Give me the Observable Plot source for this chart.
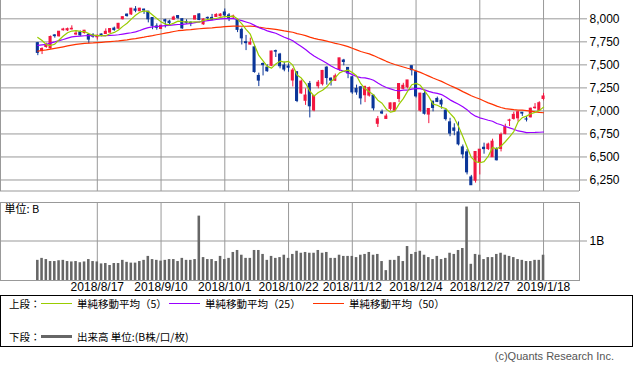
<!DOCTYPE html>
<html><head><meta charset="utf-8">
<script src="https://cdn.jsdelivr.net/npm/d3@7"></script>
<script src="https://cdn.jsdelivr.net/npm/@observablehq/plot@0.6"></script>
<style>
body{margin:0;background:#fff;}
#wrap{position:relative;width:633px;height:370px;overflow:hidden;font-family:"Liberation Sans",Arial,sans-serif;}
#p1{position:absolute;left:0;top:0;}
#p2{position:absolute;left:0;top:191px;}
#legend{position:absolute;left:0;top:295px;width:633px;height:52px;box-sizing:border-box;border:1.5px solid #000;font-family:"Noto Sans CJK JP",sans-serif;font-size:10.5px;color:#000;}
#legend .t{position:absolute;white-space:nowrap;line-height:12px;}
#legend .ln{position:absolute;height:0;}
#cap{position:absolute;right:19px;top:350px;font-size:11px;color:#555;font-family:"Liberation Sans",Arial,sans-serif;white-space:nowrap;}
</style></head><body><div id="wrap"><div id="p1"></div><div id="p2"></div>
<div id="legend">
<div class="t" style="left:8px;top:2px">上段：</div>
<div class="ln" style="left:40px;top:7px;width:31px;border-top:1.5px solid #99cc00"></div>
<div class="t" style="left:76px;top:2px">単純移動平均（5）</div>
<div class="ln" style="left:168px;top:7px;width:31px;border-top:1.5px solid #9900ff"></div>
<div class="t" style="left:204px;top:2px">単純移動平均（25）</div>
<div class="ln" style="left:312px;top:7px;width:31px;border-top:1.5px solid #ff3300"></div>
<div class="t" style="left:348px;top:2px">単純移動平均（50）</div>
<div class="t" style="left:8px;top:35px">下段：</div>
<div class="ln" style="left:40px;top:39px;width:31px;border-top:3px solid #666"></div>
<div class="t" style="left:76px;top:35px">出来高 単位:(B株/口/枚)</div>
</div>
<div id="cap">(c)Quants Research Inc.</div>
</div>
<script>
const dates = [
"2018/7/30","2018/7/31","2018/8/1","2018/8/2","2018/8/3","2018/8/6","2018/8/7","2018/8/8","2018/8/9","2018/8/10","2018/8/13","2018/8/14","2018/8/15","2018/8/16","2018/8/17",
"2018/8/20","2018/8/21","2018/8/22","2018/8/23","2018/8/24","2018/8/27","2018/8/28","2018/8/29","2018/8/30","2018/8/31","2018/9/4","2018/9/5","2018/9/6","2018/9/7","2018/9/10",
"2018/9/11","2018/9/12","2018/9/13","2018/9/14","2018/9/17","2018/9/18","2018/9/19","2018/9/20","2018/9/21","2018/9/24","2018/9/25","2018/9/26","2018/9/27","2018/9/28","2018/10/1",
"2018/10/2","2018/10/3","2018/10/4","2018/10/5","2018/10/8","2018/10/9","2018/10/10","2018/10/11","2018/10/12","2018/10/15","2018/10/16","2018/10/17","2018/10/18","2018/10/19","2018/10/22",
"2018/10/23","2018/10/24","2018/10/25","2018/10/26","2018/10/29","2018/10/30","2018/10/31","2018/11/1","2018/11/2","2018/11/5","2018/11/6","2018/11/7","2018/11/8","2018/11/9","2018/11/12",
"2018/11/13","2018/11/14","2018/11/15","2018/11/16","2018/11/19","2018/11/20","2018/11/21","2018/11/23","2018/11/26","2018/11/27","2018/11/28","2018/11/29","2018/11/30","2018/12/3","2018/12/4",
"2018/12/6","2018/12/7","2018/12/10","2018/12/11","2018/12/12","2018/12/13","2018/12/14","2018/12/17","2018/12/18","2018/12/19","2018/12/20","2018/12/21","2018/12/24","2018/12/26","2018/12/27",
"2018/12/28","2018/12/31","2019/1/2","2019/1/3","2019/1/4","2019/1/7","2019/1/8","2019/1/9","2019/1/10","2019/1/11","2019/1/14","2019/1/15","2019/1/16","2019/1/17","2019/1/18"];

const open = [
7736,7652,7694,7680,7820,7810,7876,7875,7885,7830,7852,7845,7825,7821,7800,
7830,7835,7850,7894,7893,7996,8046,8048,8102,8083,8100,8078,8009,7917,7890,
7985,7970,7990,8030,7996,7965,7958,7992,8048,7940,8010,8010,8020,8028,8069,
8037,8016,7985,7880,7746,7720,7690,7380,7510,7470,7490,7650,7612,7492,7482,
7330,7420,7190,7110,7293,7005,7268,7290,7470,7350,7328,7450,7547,7467,7365,
7239,7257,7170,7166,7166,6860,6985,6913,7022,7003,7130,7240,7257,7486,7420,
7003,7185,6960,7100,7130,7110,7003,6876,6810,6767,6604,6550,6278,6242,6441,
6600,6586,6497,6587,6587,6750,6893,6913,6920,6980,6908,6930,7030,7003,7130];

const high = [
7744,7685,7735,7813,7828,7862,7897,7900,7924,7864,7868,7874,7830,7839,7825,
7835,7891,7894,7910,7950,8022,8052,8113,8133,8114,8106,8080,8010,7946,7931,
7995,7985,8028,8035,8000,7990,7966,8036,8055,8000,8020,8048,8056,8055,8107,
8057,8040,7996,7900,7820,7790,7712,7410,7520,7500,7648,7660,7625,7530,7510,
7460,7424,7335,7240,7320,7170,7330,7440,7480,7360,7400,7571,7560,7470,7375,
7280,7262,7270,7260,7170,6940,7010,6965,7085,7090,7292,7300,7331,7486,7430,
7190,7210,7023,7105,7150,7130,7010,6920,6860,6880,6630,6580,6300,6555,6580,
6650,6650,6693,6600,6760,6856,6910,6986,6990,6982,6938,7030,7080,7100,7190];

const low = [
7600,7612,7680,7670,7790,7802,7866,7862,7880,7820,7810,7835,7728,7790,7770,
7805,7832,7846,7865,7887,7988,8018,8036,8066,8077,8048,7956,7882,7876,7888,
7900,7925,7985,7991,7886,7940,7915,7990,7980,7930,7985,7980,8015,8020,8013,
7970,7996,7850,7716,7655,7715,7410,7264,7380,7420,7480,7580,7457,7425,7420,
7260,7090,7180,7060,6924,6990,7240,7270,7280,7270,7320,7430,7490,7350,7180,
7170,7065,7090,7150,7000,6820,6960,6910,7000,6990,7090,7230,7240,7380,7140,
6986,6955,6862,6990,7090,7020,6890,6720,6730,6620,6480,6305,6190,6216,6305,
6530,6570,6496,6457,6555,6740,6830,6900,6880,6940,6880,6925,7018,6995,7110];

const close = [
7630,7672,7707,7803,7812,7860,7884,7888,7892,7839,7820,7871,7774,7807,7816,
7821,7859,7889,7878,7946,8018,8030,8110,8088,8110,8091,7995,7923,7903,7924,
7972,7954,8014,8010,7896,7956,7950,8028,7987,7993,8007,7990,8042,8046,8037,
8000,8025,7880,7788,7736,7738,7422,7329,7497,7431,7645,7643,7485,7449,7469,
7438,7108,7318,7167,7050,7162,7306,7434,7357,7329,7376,7571,7531,7407,7201,
7201,7136,7259,7248,7028,6909,6972,6939,7082,7083,7292,7273,7331,7442,7158,
7188,6969,7021,7032,7098,7070,6911,6754,6784,6637,6528,6333,6193,6554,6579,
6585,6635,6666,6464,6739,6823,6897,6957,6986,6971,6906,7024,7035,7084,7157];

// closes of the 49 sessions before the first candle (for the moving averages)
const priorCloses = [
7354,7394,7378,7426,7424,7434,7397,7462,7442,
7554,7606,7638,7689,7635,7646,7660,7704,7696,7761,7746,7747,7726,7782,7713,7693,7532,7562,7445,7504,7510,
7568,7503,7586,7688,7756,7759,7717,7824,7826,7806,7855,7854,7825,7820,7842,7841,7932,7852,7737];

// volume in billions
const volume = [
0.51,0.56,0.53,0.48,0.48,0.50,0.51,0.48,0.47,0.48,0.45,0.47,0.53,0.48,0.47,
0.42,0.43,0.38,0.43,0.43,0.51,0.46,0.44,0.44,0.48,0.51,0.61,0.53,0.51,0.49,
0.51,0.53,0.53,0.48,0.56,0.51,0.51,0.53,1.63,0.58,0.53,0.53,0.48,0.61,0.53,
0.56,0.71,0.76,0.64,0.56,0.56,0.76,0.76,0.66,0.51,0.61,0.56,0.58,0.64,0.56,
0.66,0.74,0.69,0.71,0.69,0.69,0.76,0.69,0.71,0.56,0.56,0.64,0.61,0.61,0.61,
0.58,0.64,0.66,0.71,0.64,0.66,0.48,0.25,0.51,0.51,0.61,0.48,0.86,0.66,0.71,
0.74,0.64,0.58,0.53,0.61,0.53,0.56,0.69,0.66,0.76,0.81,1.86,0.41,0.66,0.64,
0.53,0.58,0.58,0.66,0.69,0.64,0.61,0.58,0.53,0.51,0.48,0.48,0.51,0.51,0.64];

const tickIdx = [14,29,44,59,74,89,104,119];
const priceTicks = [6250,6500,6750,7000,7250,7500,7750,8000];
const volumeTicks = [1];

const UP = "#f2163f", DOWN = "#0a3598";
const xDomain = [-8.78, 127.46];
const yDomain = [6125, 8199];

const all = priorCloses.concat(close);
const sma = n => close.map((_, i) => { const j = i + priorCloses.length; return d3.mean(all.slice(j - n + 1, j + 1)); });
const ma5 = sma(5), ma25 = sma(25), ma50 = sma(50);

const rows = dates.map((d, i) => ({i, date: d, open: open[i], high: high[i], low: low[i], close: close[i],
  volume: volume[i], ma5: ma5[i], ma25: ma25[i], ma50: ma50[i], color: close[i] >= open[i] ? UP : DOWN}));

const grid = "#999";
const fmtComma = d3.format(",");

const p1 = Plot.plot({
  width: 633, height: 191, marginLeft: 0, marginRight: 54, marginTop: 0, marginBottom: 0,
  style: {fontFamily: "Liberation Sans, Arial, sans-serif", fontSize: "12px", background: "transparent", overflow: "visible"},
  x: {type: "linear", domain: xDomain, axis: null},
  y: {domain: yDomain, axis: null},
  marks: [
    Plot.gridX(tickIdx, {stroke: grid, strokeOpacity: 1}),
    Plot.gridY(priceTicks, {stroke: grid, strokeOpacity: 1}),
    Plot.ruleX(xDomain, {stroke: grid}),
    Plot.ruleY([yDomain[0]], {stroke: grid, dy: -0.5}),
    Plot.axisY(priceTicks, {anchor: "right", label: null, tickSize: 7, tickPadding: 3, tickFormat: fmtComma, stroke: grid, fill: "#000", style: "letter-spacing:1px"}),
    Plot.ruleX(rows, {x: "i", y1: "low", y2: "high", stroke: "color", strokeWidth: 1}),
    Plot.rect(rows, {x1: d => d.i - 0.36, x2: d => d.i + 0.36, y1: "open", y2: "close", fill: "color", insetTop: -0.5, insetBottom: -0.5}),
    Plot.line(rows, {x: "i", y: "ma50", stroke: "#ff3300", strokeWidth: 1.2}),
    Plot.line(rows, {x: "i", y: "ma25", stroke: "#9900ff", strokeWidth: 1.2}),
    Plot.line(rows, {x: "i", y: "ma5", stroke: "#99cc00", strokeWidth: 1.2})
  ]
});
document.getElementById("p1").appendChild(p1);

const p2 = Plot.plot({
  width: 633, height: 110, marginLeft: 0, marginRight: 54, marginTop: 11, marginBottom: 21,
  style: {fontFamily: "Liberation Sans, Arial, sans-serif", fontSize: "12px", background: "transparent", overflow: "visible"},
  x: {type: "linear", domain: xDomain, axis: null},
  y: {domain: [0, 1.975], axis: null},
  marks: [
    Plot.gridX(tickIdx, {stroke: grid, strokeOpacity: 1}),
    Plot.gridY(volumeTicks, {stroke: grid, strokeOpacity: 1}),
    Plot.rectY(rows, {x1: d => d.i - 0.3, x2: d => d.i + 0.3, y: "volume", fill: "#666"}),
    Plot.frame({stroke: grid}),
    Plot.axisY(volumeTicks, {anchor: "right", label: null, tickSize: 7, tickPadding: 3, tickFormat: d => d + "B", stroke: grid, fill: "#000"}),
    Plot.axisX(tickIdx, {anchor: "bottom", label: null, tickSize: 0, tickPadding: 2, tickFormat: i => dates[i], fill: "#000", style: "letter-spacing:0.8px"}),
    Plot.text(["単位: B"], {frameAnchor: "top-left", dx: 4, dy: 3, textAnchor: "start", lineAnchor: "top", fontFamily: "Noto Sans CJK JP", fontSize: 11, fill: "#000"})
  ]
});
document.getElementById("p2").appendChild(p2);
</script>
</body></html>
